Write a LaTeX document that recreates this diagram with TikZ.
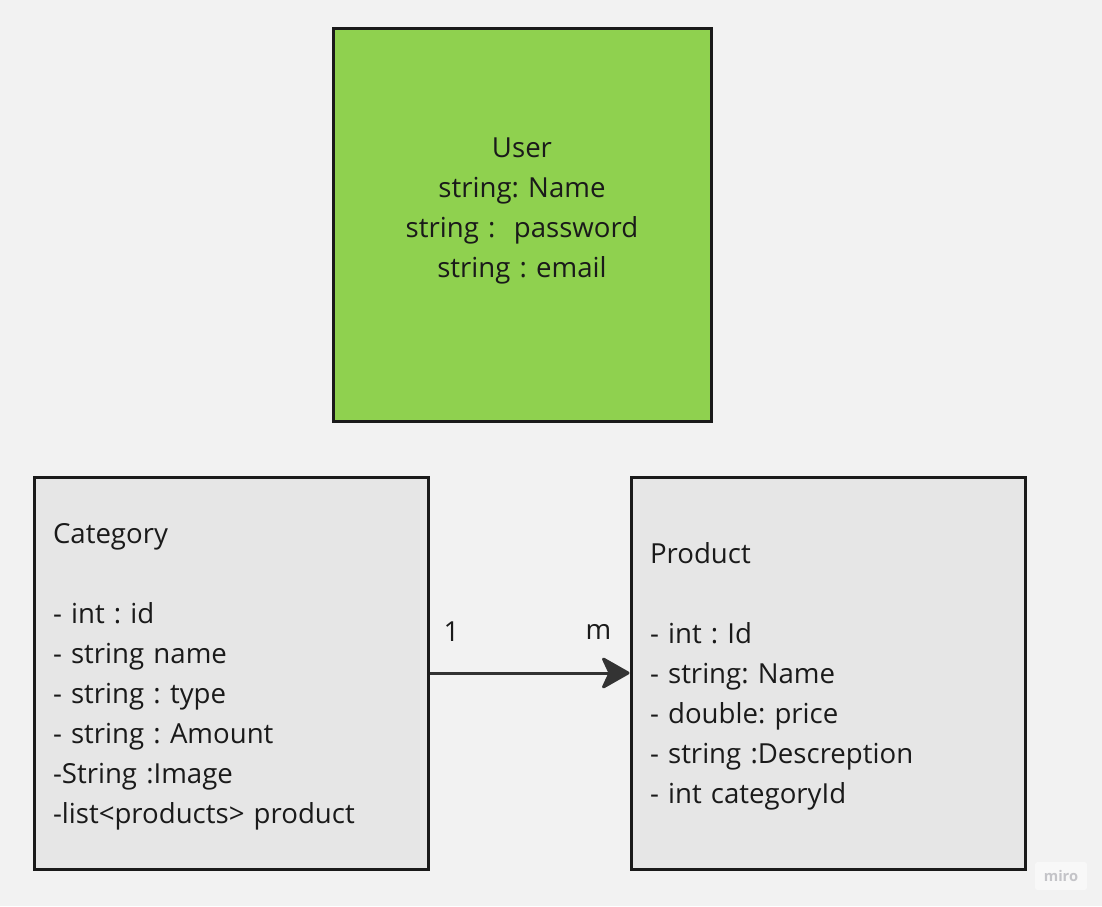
\documentclass[tikz,border=0pt]{standalone}
\usepackage{fontspec}
\setmainfont{Open Sans}
\usetikzlibrary{arrows.meta}
\frenchspacing
\definecolor{bgcol}{HTML}{F2F2F2}
\definecolor{usergreen}{HTML}{8FD14F}
\definecolor{boxgray}{HTML}{E6E6E6}
\definecolor{edgecol}{HTML}{1A1A1A}
\definecolor{arrowcol}{HTML}{333333}
\definecolor{mirotext}{HTML}{C4C4C8}
\tikzstyle{entity}=[draw=edgecol, line width=2.25pt, minimum width=283.5pt, minimum height=294pt, inner sep=0pt, text width=267pt, font=\fontsize{20.7}{30}\selectfont, text=edgecol]
\tikzstyle{listbox}=[entity, fill=boxgray, minimum width=295.5pt, align=left]
\tikzstyle{link}=[draw=arrowcol, line width=2.25pt, -{Stealth[length=23pt, width=26pt, inset=6pt, round]}]
\tikzstyle{mult}=[font=\fontsize{20.7}{30}\selectfont, text=edgecol]

\begin{document}
\begin{tikzpicture}[x=0.75pt, y=-0.75pt]
    \fill[bgcol] (0,0) rectangle (1102,906);
    \useasboundingbox (0,0) rectangle (1102,906);
    \node[entity, fill=usergreen, align=center] (user) at (522,225)
        {\rule{0pt}{18pt}User\\ string: Name\\ string :~~password\\ string : email\\ \mbox{}};
    \node[listbox] (category) at (231,673)
        {\rule{0pt}{21pt}Category\\[30pt] - int : id\\ - string name\\ - string : type\\ - string : Amount\\ -String :Image\\ -list<products> product};
    \node[listbox] (product) at (828,673)
        {\rule{0pt}{20.2pt}Product\\[30pt] - int : Id\\ - string: Name\\ - double: price\\ - string :Descreption\\ - int categoryId};
    \draw[link] (category.east) -- (product.west)
        node[mult, pos=0.11, yshift=30.75pt] (one) {1}
        node[mult, pos=0.845, yshift=30.75pt] (many) {m};
    % watermark
    \node[fill=white!50!bgcol, rounded corners=2pt, minimum width=39pt, minimum height=21pt, text=mirotext, font=\fontsize{11}{13}\selectfont\bfseries] (miro) at (1061,876) {miro};
\end{tikzpicture}
\end{document}
